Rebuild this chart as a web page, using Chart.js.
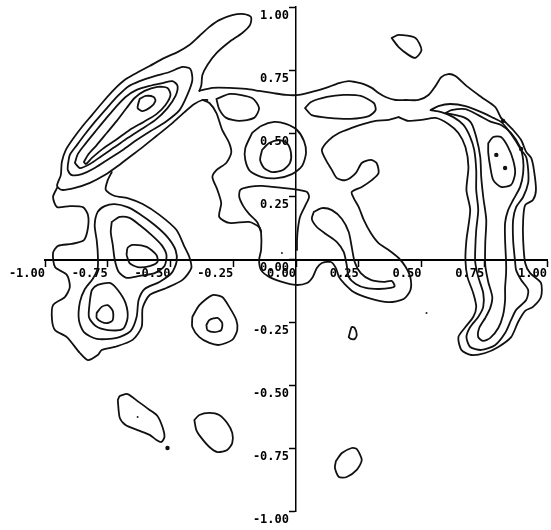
<!DOCTYPE html>
<html>
<head>
<meta charset="utf-8">
<script src="https://cdn.jsdelivr.net/npm/chart.js@4.4.1/dist/chart.umd.min.js"></script>
<style>
  html, body { margin: 0; padding: 0; background: #fff; }
  canvas { display: block; }
</style>
</head>
<body>
<canvas id="chart" width="551" height="530"></canvas>
<script>
// Axis ticks and their printed labels
const xTicks = [-1, -0.75, -0.5, -0.25, 0, 0.25, 0.5, 0.75, 1];
const xTickLabels = ['-1.00', '-0.75', '-0.50', '-0.25', '0.00', '0.25', '0.50', '0.75', '1.00'];
const yTicks = [-1, -0.75, -0.5, -0.25, 0, 0.25, 0.5, 0.75, 1];
const yTickLabels = ['-1.00', '-0.75', '-0.50', '-0.25', '0.00', '0.25', '0.50', '0.75', '1.00'];

// Contour traces, [x, y] in axis units.
// Open traces (parts of the lowest level that run into each other)
const fingerArmOuter = [[-0.385,0.667],[-0.377,0.690],[-0.373,0.730],[-0.353,0.770],[-0.317,0.817],[-0.266,0.861],[-0.214,0.897],[-0.183,0.929],[-0.179,0.960],[-0.206,0.972],[-0.254,0.968],[-0.306,0.948],[-0.345,0.921],[-0.385,0.885],[-0.425,0.849],[-0.472,0.821],[-0.524,0.798],[-0.583,0.766],[-0.643,0.734],[-0.683,0.710],[-0.722,0.675],[-0.766,0.627],[-0.813,0.571],[-0.853,0.524],[-0.889,0.476],[-0.917,0.433],[-0.933,0.385],[-0.937,0.333],[-0.952,0.290],[-0.933,0.274],[-0.881,0.282],[-0.821,0.302],[-0.762,0.333],[-0.710,0.369],[-0.663,0.405],[-0.611,0.444],[-0.556,0.488],[-0.496,0.536],[-0.444,0.583],[-0.405,0.615],[-0.373,0.631],[-0.353,0.631]];
const lowerLeftOuter = [[-0.952,0.282],[-0.968,0.246],[-0.952,0.206],[-0.901,0.210],[-0.849,0.206],[-0.829,0.175],[-0.829,0.123],[-0.845,0.075],[-0.893,0.060],[-0.948,0.052],[-0.968,0.024],[-0.960,-0.032],[-0.913,-0.063],[-0.901,-0.111],[-0.921,-0.151],[-0.968,-0.183],[-0.972,-0.242],[-0.960,-0.282],[-0.913,-0.310],[-0.861,-0.373],[-0.829,-0.401],[-0.790,-0.381],[-0.774,-0.361],[-0.722,-0.349],[-0.651,-0.321],[-0.615,-0.270],[-0.611,-0.194],[-0.583,-0.143],[-0.516,-0.115],[-0.452,-0.083],[-0.417,-0.036],[-0.425,0.008],[-0.444,0.048],[-0.476,0.115],[-0.544,0.175],[-0.611,0.218],[-0.671,0.242],[-0.722,0.250],[-0.758,0.274],[-0.750,0.313],[-0.734,0.345]];
const centralBoundary = [[0.409,0.563],[0.369,0.552],[0.317,0.548],[0.270,0.536],[0.222,0.520],[0.171,0.500],[0.131,0.472],[0.103,0.433],[0.119,0.393],[0.143,0.353],[0.163,0.321],[0.198,0.313],[0.238,0.341],[0.262,0.381],[0.298,0.393],[0.321,0.381],[0.329,0.341],[0.302,0.313],[0.262,0.286],[0.222,0.266],[0.230,0.242],[0.250,0.206],[0.270,0.155],[0.298,0.103],[0.329,0.063],[0.369,0.036],[0.409,0.004],[0.437,-0.032],[0.456,-0.075],[0.456,-0.123],[0.429,-0.159],[0.369,-0.171],[0.290,-0.155],[0.230,-0.131],[0.190,-0.095],[0.171,-0.071],[0.159,-0.036],[0.139,-0.012],[0.103,-0.016],[0.083,-0.036],[0.067,-0.071],[0.044,-0.095],[0.000,-0.103],[-0.056,-0.091],[-0.107,-0.071],[-0.139,-0.044],[-0.147,-0.004],[-0.139,0.036],[-0.139,0.103],[-0.147,0.127],[-0.187,0.147],[-0.266,0.143],[-0.306,0.167],[-0.298,0.222],[-0.313,0.274],[-0.333,0.325],[-0.317,0.353],[-0.278,0.381],[-0.258,0.421],[-0.266,0.460],[-0.294,0.512],[-0.317,0.579],[-0.345,0.619],[-0.373,0.631]];
const ridge025 = [[-0.139,0.107],[-0.155,0.147],[-0.187,0.179],[-0.210,0.210],[-0.226,0.246],[-0.222,0.274],[-0.187,0.286],[-0.135,0.290],[-0.056,0.282],[0.012,0.274],[0.044,0.266],[0.052,0.246],[0.036,0.210],[0.016,0.167],[0.008,0.123],[0.004,0.075],[0.004,0.036]];
const arcOuter = [[-0.385,0.667],[-0.333,0.679],[-0.266,0.679],[-0.198,0.675],[-0.147,0.667],[-0.095,0.659],[-0.040,0.651],[0.012,0.651],[0.063,0.663],[0.119,0.679],[0.171,0.698],[0.210,0.706],[0.238,0.702],[0.270,0.694],[0.302,0.679],[0.329,0.659],[0.357,0.643],[0.397,0.631],[0.437,0.631],[0.488,0.631],[0.528,0.651],[0.556,0.687],[0.579,0.722],[0.607,0.734],[0.635,0.726],[0.679,0.687],[0.738,0.643],[0.794,0.603],[0.817,0.560],[0.837,0.540],[0.865,0.512],[0.897,0.472],[0.917,0.425],[0.937,0.401],[0.948,0.353],[0.956,0.274],[0.944,0.234],[0.913,0.214],[0.905,0.155],[0.905,0.075],[0.913,-0.016],[0.933,-0.056],[0.976,-0.095],[0.976,-0.151],[0.944,-0.190],[0.913,-0.206],[0.885,-0.250],[0.857,-0.310],[0.806,-0.349],[0.754,-0.373],[0.698,-0.381],[0.659,-0.361],[0.647,-0.310],[0.675,-0.270],[0.706,-0.230],[0.718,-0.190],[0.706,-0.135],[0.683,-0.071],[0.675,-0.004],[0.679,0.075],[0.694,0.194],[0.679,0.274],[0.687,0.365],[0.675,0.444],[0.647,0.500],[0.607,0.536],[0.556,0.560],[0.500,0.552],[0.448,0.548],[0.409,0.563]];

// Closed loops
const armRing2 = [[-0.909,0.373],[-0.901,0.413],[-0.873,0.452],[-0.837,0.500],[-0.798,0.548],[-0.750,0.603],[-0.710,0.647],[-0.671,0.683],[-0.623,0.706],[-0.563,0.726],[-0.504,0.742],[-0.452,0.762],[-0.421,0.754],[-0.413,0.710],[-0.433,0.651],[-0.464,0.591],[-0.520,0.544],[-0.579,0.508],[-0.635,0.472],[-0.690,0.433],[-0.746,0.397],[-0.802,0.361],[-0.853,0.337],[-0.893,0.333],[-0.909,0.353]];
const armRing3 = [[-0.881,0.381],[-0.869,0.417],[-0.837,0.460],[-0.798,0.508],[-0.758,0.556],[-0.718,0.603],[-0.679,0.643],[-0.635,0.671],[-0.583,0.687],[-0.532,0.698],[-0.492,0.706],[-0.472,0.687],[-0.480,0.647],[-0.512,0.599],[-0.560,0.552],[-0.615,0.516],[-0.671,0.480],[-0.722,0.444],[-0.774,0.409],[-0.821,0.377],[-0.861,0.361]];
const armRing4 = [[-0.845,0.385],[-0.829,0.413],[-0.794,0.452],[-0.754,0.500],[-0.714,0.548],[-0.675,0.599],[-0.643,0.639],[-0.603,0.667],[-0.552,0.683],[-0.512,0.679],[-0.500,0.651],[-0.520,0.611],[-0.556,0.575],[-0.607,0.544],[-0.663,0.512],[-0.718,0.472],[-0.770,0.437],[-0.813,0.401],[-0.837,0.377]];
const armCore = [[-0.623,0.635],[-0.599,0.647],[-0.567,0.643],[-0.560,0.627],[-0.579,0.603],[-0.611,0.587],[-0.631,0.599]];
const lowerLeftRing2 = [[-0.794,0.075],[-0.802,0.135],[-0.790,0.187],[-0.762,0.210],[-0.722,0.218],[-0.671,0.206],[-0.623,0.179],[-0.563,0.135],[-0.512,0.087],[-0.480,0.036],[-0.476,-0.012],[-0.496,-0.056],[-0.544,-0.091],[-0.603,-0.119],[-0.627,-0.163],[-0.635,-0.230],[-0.659,-0.286],[-0.714,-0.313],[-0.794,-0.317],[-0.845,-0.290],[-0.865,-0.242],[-0.861,-0.171],[-0.841,-0.119],[-0.810,-0.079],[-0.790,-0.036],[-0.790,0.028]];
const lowerLeftUpperRing = [[-0.734,0.147],[-0.702,0.167],[-0.663,0.163],[-0.623,0.135],[-0.575,0.095],[-0.536,0.056],[-0.516,0.016],[-0.524,-0.028],[-0.563,-0.056],[-0.623,-0.067],[-0.675,-0.075],[-0.706,-0.052],[-0.722,-0.004],[-0.730,0.056],[-0.738,0.107]];
const lowerLeftUpperCore = [[-0.675,0.016],[-0.671,0.044],[-0.651,0.056],[-0.595,0.048],[-0.556,0.016],[-0.552,-0.012],[-0.583,-0.028],[-0.631,-0.032],[-0.663,-0.016]];
const lowerLeftLowerRing = [[-0.821,-0.163],[-0.813,-0.123],[-0.790,-0.103],[-0.742,-0.095],[-0.710,-0.123],[-0.679,-0.175],[-0.671,-0.234],[-0.690,-0.278],[-0.750,-0.282],[-0.798,-0.266],[-0.825,-0.230]];
const lowerLeftLowerCore = [[-0.794,-0.214],[-0.774,-0.190],[-0.750,-0.183],[-0.730,-0.206],[-0.730,-0.242],[-0.750,-0.254],[-0.774,-0.250],[-0.794,-0.234]];
const southWestRing = [[-0.413,-0.230],[-0.385,-0.183],[-0.333,-0.143],[-0.294,-0.151],[-0.266,-0.190],[-0.238,-0.242],[-0.234,-0.282],[-0.254,-0.321],[-0.306,-0.341],[-0.345,-0.333],[-0.385,-0.310],[-0.413,-0.270]];
const southWestCore = [[-0.357,-0.262],[-0.345,-0.242],[-0.313,-0.234],[-0.294,-0.254],[-0.298,-0.282],[-0.325,-0.290],[-0.353,-0.282]];
const bottomBlobA = [[-0.710,-0.560],[-0.702,-0.544],[-0.671,-0.536],[-0.627,-0.567],[-0.583,-0.599],[-0.552,-0.623],[-0.532,-0.667],[-0.524,-0.706],[-0.536,-0.726],[-0.556,-0.718],[-0.583,-0.698],[-0.631,-0.679],[-0.679,-0.659],[-0.702,-0.631]];
const bottomBlobB = [[-0.405,-0.639],[-0.385,-0.619],[-0.345,-0.611],[-0.306,-0.619],[-0.274,-0.651],[-0.254,-0.690],[-0.254,-0.730],[-0.274,-0.758],[-0.313,-0.766],[-0.345,-0.746],[-0.377,-0.710],[-0.397,-0.679]];
const bottomBlobC = [[0.159,-0.802],[0.183,-0.770],[0.222,-0.750],[0.242,-0.754],[0.262,-0.798],[0.242,-0.837],[0.202,-0.865],[0.171,-0.865],[0.155,-0.829]];
const smallLoop = [[0.210,-0.310],[0.222,-0.270],[0.234,-0.274],[0.242,-0.302],[0.234,-0.317],[0.218,-0.317]];
const northBlob = [[0.381,0.877],[0.409,0.889],[0.476,0.877],[0.500,0.829],[0.476,0.798],[0.448,0.810],[0.409,0.841]];
const bandBlobWest = [[-0.317,0.635],[-0.262,0.655],[-0.175,0.639],[-0.147,0.599],[-0.167,0.560],[-0.226,0.548],[-0.278,0.560],[-0.306,0.595]];
const bandBlobEast = [[0.036,0.599],[0.060,0.623],[0.123,0.643],[0.190,0.651],[0.258,0.647],[0.310,0.619],[0.317,0.591],[0.290,0.567],[0.218,0.556],[0.131,0.560],[0.063,0.571]];
const centralRing = [[-0.175,0.500],[-0.139,0.528],[-0.087,0.544],[-0.040,0.536],[0.004,0.512],[0.032,0.468],[0.040,0.421],[0.024,0.369],[-0.016,0.337],[-0.075,0.321],[-0.135,0.325],[-0.183,0.349],[-0.202,0.393],[-0.202,0.440]];
const centralCore = [[-0.135,0.433],[-0.107,0.460],[-0.067,0.472],[-0.036,0.460],[-0.020,0.421],[-0.024,0.381],[-0.052,0.353],[-0.095,0.345],[-0.127,0.361],[-0.143,0.393]];
const eastLobe = [[0.071,0.187],[0.103,0.202],[0.143,0.194],[0.183,0.159],[0.210,0.107],[0.222,0.048],[0.234,-0.012],[0.258,-0.056],[0.298,-0.083],[0.349,-0.091],[0.381,-0.087],[0.393,-0.107],[0.377,-0.115],[0.329,-0.119],[0.278,-0.115],[0.238,-0.099],[0.210,-0.071],[0.202,-0.024],[0.190,0.028],[0.163,0.067],[0.119,0.099],[0.083,0.127],[0.063,0.159]];
const arcRing2 = [[0.536,0.591],[0.567,0.607],[0.615,0.615],[0.675,0.607],[0.738,0.583],[0.786,0.560],[0.817,0.544],[0.845,0.512],[0.873,0.472],[0.897,0.433],[0.917,0.405],[0.925,0.353],[0.925,0.302],[0.905,0.246],[0.877,0.206],[0.865,0.155],[0.865,0.075],[0.873,-0.012],[0.877,-0.044],[0.897,-0.083],[0.925,-0.123],[0.917,-0.163],[0.877,-0.202],[0.857,-0.242],[0.833,-0.294],[0.794,-0.341],[0.738,-0.361],[0.694,-0.349],[0.679,-0.310],[0.694,-0.270],[0.726,-0.230],[0.746,-0.190],[0.746,-0.135],[0.726,-0.071],[0.714,-0.012],[0.714,0.036],[0.718,0.115],[0.726,0.194],[0.718,0.274],[0.718,0.353],[0.710,0.433],[0.694,0.484],[0.667,0.532],[0.627,0.563],[0.579,0.583]];
const arcRing3 = [[0.595,0.579],[0.619,0.591],[0.675,0.595],[0.726,0.571],[0.778,0.544],[0.817,0.532],[0.857,0.500],[0.893,0.444],[0.905,0.393],[0.905,0.341],[0.893,0.286],[0.865,0.234],[0.845,0.194],[0.833,0.143],[0.833,0.075],[0.837,-0.012],[0.837,-0.056],[0.833,-0.115],[0.833,-0.163],[0.825,-0.222],[0.806,-0.274],[0.774,-0.313],[0.746,-0.325],[0.726,-0.310],[0.730,-0.274],[0.754,-0.234],[0.774,-0.194],[0.782,-0.151],[0.766,-0.091],[0.754,-0.024],[0.754,0.063],[0.758,0.155],[0.746,0.246],[0.738,0.325],[0.734,0.405],[0.718,0.484],[0.698,0.540],[0.667,0.563],[0.619,0.575]];
const arcCore = [[0.766,0.460],[0.786,0.484],[0.817,0.484],[0.845,0.444],[0.865,0.393],[0.873,0.341],[0.857,0.294],[0.817,0.286],[0.786,0.313],[0.774,0.365],[0.766,0.421]];

// Isolated peaks too small to show as rings
const spots = [[0.798,0.413],[0.833,0.361],[-0.512,-0.750],[0.825,0.548],[0.897,0.437]];
const specks = [[-0.056,0.024],[0.520,-0.214],[-0.631,-0.627]];

const openTraces = [fingerArmOuter, lowerLeftOuter, centralBoundary, ridge025, arcOuter];
const loopTraces = [armRing2, armRing3, armRing4, armCore, lowerLeftRing2, lowerLeftUpperRing,
  lowerLeftUpperCore, lowerLeftLowerRing, lowerLeftLowerCore, southWestRing, southWestCore,
  bottomBlobA, bottomBlobB, bottomBlobC, smallLoop, northBlob, bandBlobWest, bandBlobEast,
  centralRing, centralCore, eastLobe, arcRing2, arcRing3, arcCore];

const toXY = pts => pts.map(([x, y]) => ({ x, y }));
const contourStyle = {
  showLine: true, pointRadius: 0, pointHoverRadius: 0, fill: false,
  borderColor: '#111', borderWidth: 1.8, tension: 0.25,
  borderJoinStyle: 'round', borderCapStyle: 'round'
};

const datasets = [
  ...openTraces.map(p => ({ ...contourStyle, data: toXY(p) })),
  ...loopTraces.map(p => ({ ...contourStyle, data: toXY(p.concat([p[0]])) })),
  { data: toXY(spots), showLine: false, pointRadius: 2.2, pointBorderWidth: 0, pointBackgroundColor: '#111' },
  { data: toXY(specks), showLine: false, pointRadius: 1, pointBorderWidth: 0, pointBackgroundColor: '#222' }
];

const tickFont = { family: 'DejaVu Sans Mono', size: 12, weight: 'bold' };
const zeroPadding = s => { s.paddingLeft = 0; s.paddingRight = 0; s.paddingTop = 0; s.paddingBottom = 0; };

new Chart(document.getElementById('chart'), {
  type: 'scatter',
  data: { datasets },
  options: {
    responsive: false,
    animation: false,
    devicePixelRatio: 1,
    events: [],
    layout: { padding: { left: 45, right: 2, top: 7, bottom: 19 } },
    plugins: { legend: { display: false }, tooltip: { enabled: false } },
    scales: {
      x: {
        type: 'linear', position: 'center', min: -1, max: 1,
        afterBuildTicks: s => { s.ticks = xTicks.map(value => ({ value })); },
        afterFit: s => { s.height = 0; zeroPadding(s); },
        ticks: {
          autoSkip: false, maxRotation: 0, minRotation: 0, align: 'end', padding: 2,
          color: '#000', font: tickFont,
          callback: v => xTickLabels[xTicks.indexOf(v)]
        },
        grid: { drawOnChartArea: false, color: '#000', tickLength: 6, tickWidth: 1.5 },
        border: { color: '#000', width: 2 }
      },
      y: {
        type: 'linear', position: 'center', min: -1, max: 1,
        afterBuildTicks: s => { s.ticks = yTicks.map(value => ({ value })); },
        afterFit: s => { s.width = 0; zeroPadding(s); },
        ticks: {
          autoSkip: false, padding: 1, labelOffset: 9,
          color: '#000', font: tickFont,
          callback: v => yTickLabels[yTicks.indexOf(v)]
        },
        grid: { drawOnChartArea: false, color: '#000', tickLength: 6, tickWidth: 1.5 },
        border: { color: '#000', width: 1.5 }
      }
    }
  }
});
</script>
</body>
</html>
